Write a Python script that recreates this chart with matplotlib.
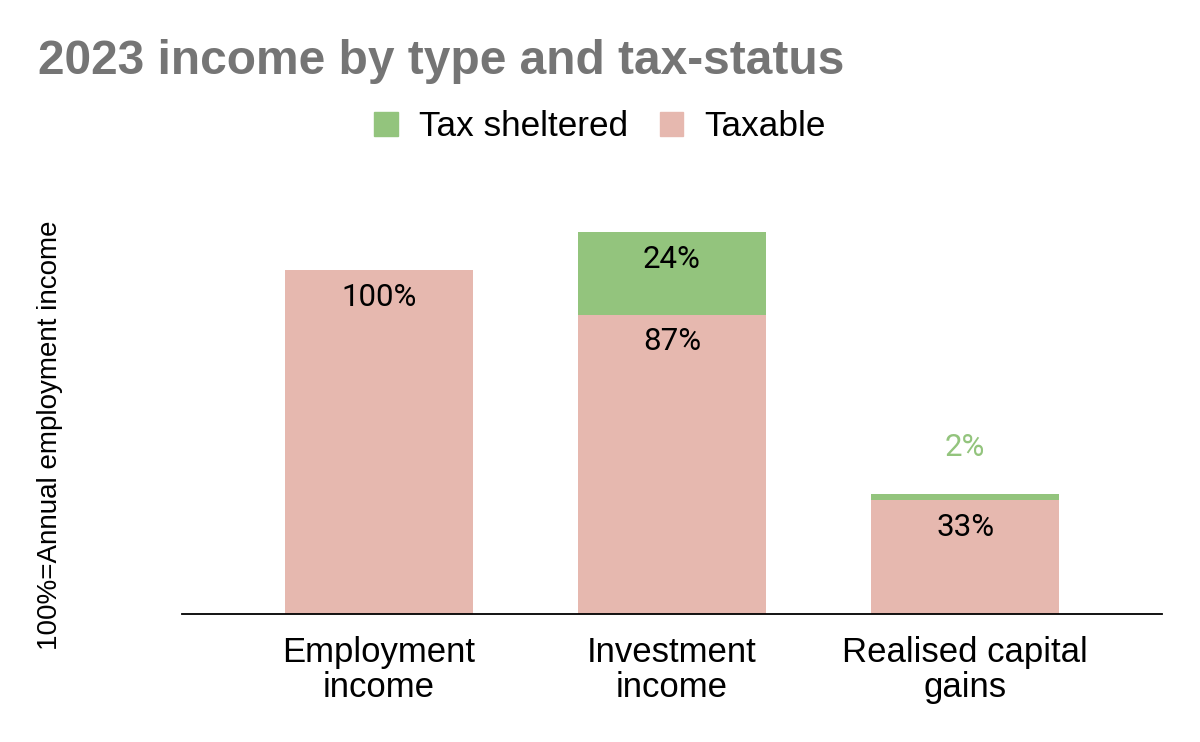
import matplotlib.pyplot as plt
from matplotlib.patches import Patch

categories = ["Employment\nincome", "Investment\nincome", "Realised capital\ngains"]
taxable = [100, 87, 33]
sheltered = [0, 24, 2]

green = "#93c47d"
pink = "#e6b8af"

plt.rcParams['font.family'] = ['Liberation Sans', 'DejaVu Sans']

fig = plt.figure(figsize=(12, 7.42), dpi=100)
ax = fig.add_axes([0.1517, 0.1725, 0.8167, 0.5563])

x = list(range(len(categories)))
w = 0.64
ax.bar(x, taxable, width=w, color=pink, zorder=2)
ax.bar(x, sheltered, width=w, bottom=taxable, color=green, zorder=2)

# labels inside segments, small segments get the label above in their colour
lab_font = ['Roboto', 'DejaVu Sans']
for i in x:
    if taxable[i] > 0:
        ax.annotate(f"{taxable[i]}%", (i, taxable[i]), xytext=(0, -19.5),
                    textcoords="offset points", ha="center", va="center",
                    fontsize=22.5, family=lab_font, color="#000000")
    if sheltered[i] > 0:
        top = taxable[i] + sheltered[i]
        if sheltered[i] >= 10:
            ax.annotate(f"{sheltered[i]}%", (i, top), xytext=(0, -20),
                        textcoords="offset points", ha="center", va="center",
                        fontsize=22.5, family=lab_font, color="#000000")
        else:
            ax.annotate(f"{sheltered[i]}%", (i, top), xytext=(0, 33),
                        textcoords="offset points", ha="center", va="center",
                        fontsize=22.5, family=lab_font, color=green)

ax.set_xlim(-0.672, 2.672)
ax.set_ylim(0, 120)
ax.set_xticks(x)
ax.set_xticklabels(categories, fontsize=25, linespacing=1.05)
ax.tick_params(axis='x', length=0, pad=16)
ax.set_yticks([])
for s in ["top", "right", "left"]:
    ax.spines[s].set_visible(False)
ax.spines["bottom"].set_linewidth(1.3)
ax.spines["bottom"].set_zorder(3)

fig.text(38 / 1200, 1 - 62 / 742, "2023 income by type and tax-status",
         fontsize=34.5, fontweight="bold", color="#757575", ha="left", va="center")

fig.text(50 / 1200, 1 - 435 / 742, "100%=Annual employment income",
         rotation=90, fontsize=20, ha="center", va="center")

handles = [Patch(color=green, label="Tax sheltered"), Patch(color=pink, label="Taxable")]
fig.legend(handles=handles, loc="center", bbox_to_anchor=(600 / 1200, 1 - 127 / 742),
           ncol=2, frameon=False, fontsize=25.3, handlelength=0.66, handleheight=0.66,
           handletextpad=0.6, columnspacing=0.92)

fig.savefig("out.png", dpi=100)
